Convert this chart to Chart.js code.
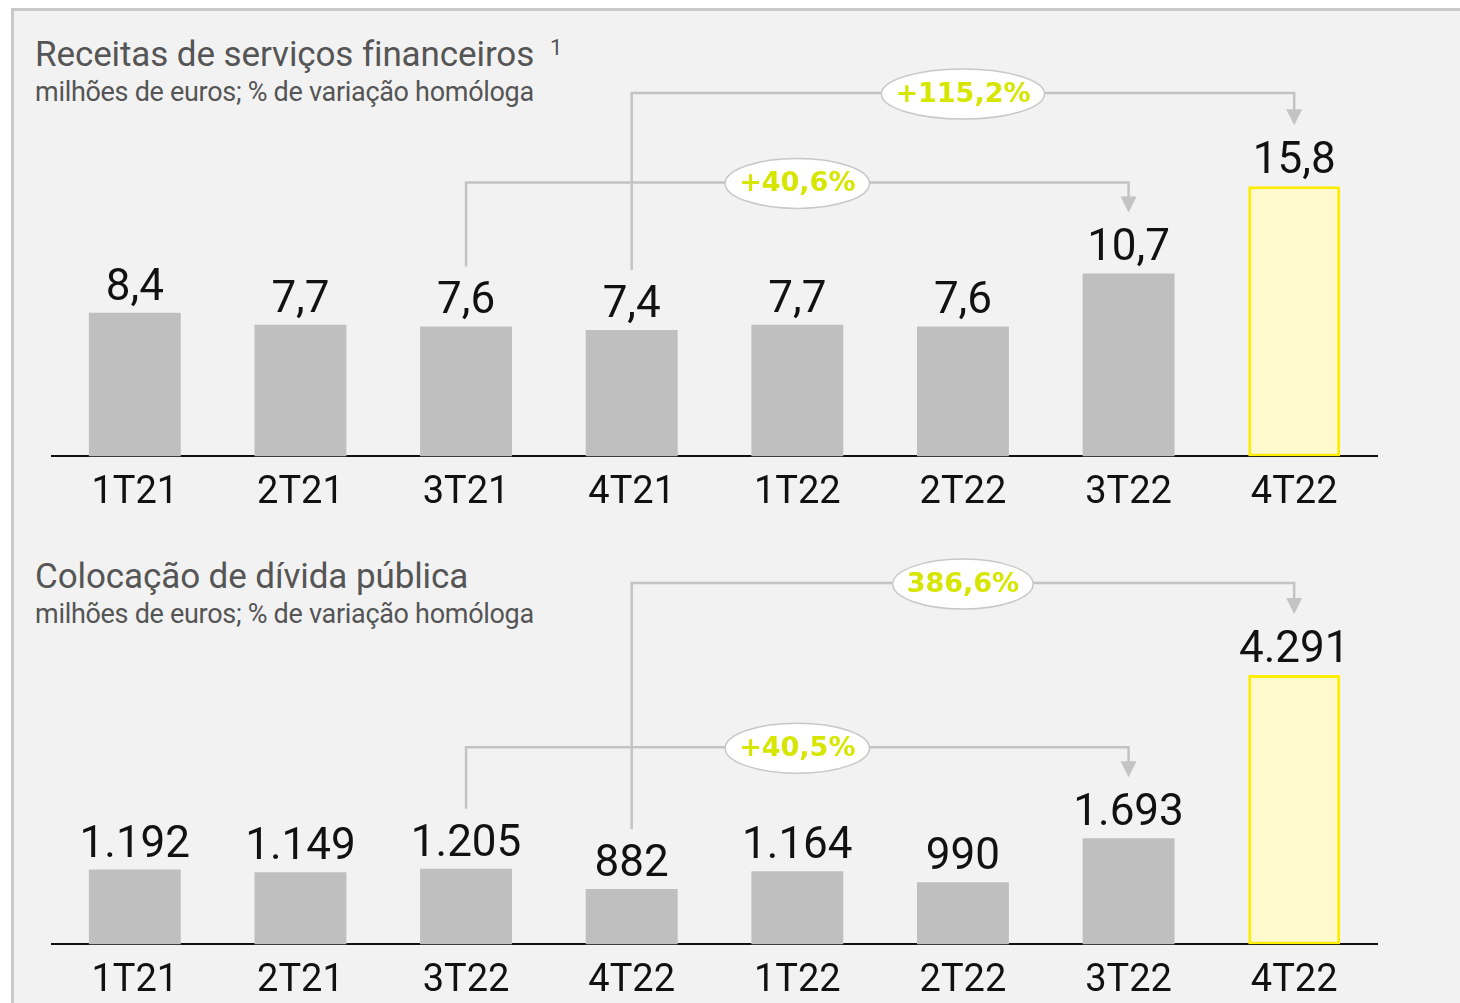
<!DOCTYPE html>
<html>
<head>
<meta charset="utf-8">
<script src="https://cdn.jsdelivr.net/npm/chart.js@4.4.0/dist/chart.umd.min.js"></script>
<style>
  body { margin: 0; background: #fff; width: 1460px; height: 1003px; overflow: hidden; position: relative; font-family: Roboto, sans-serif; }
  #frame { position: absolute; left: 11px; top: 8px; width: 1460px; height: 1000px; background: #f2f2f2;
           border-top: 3px solid #c9c9c9; border-left: 3px solid #c9c9c9; }
  .title { position: absolute; left: 35px; color: #555; font-size: 35px; line-height: 35px; white-space: nowrap; letter-spacing: -0.1px; }
  .note { position: absolute; left: 550px; top: 37px; color: #555; font-size: 22px; line-height: 22px; }
  .sub { position: absolute; left: 35px; color: #555; font-size: 27px; line-height: 27px; white-space: nowrap; letter-spacing: -0.3px; }
  canvas { position: absolute; left: 0; }
</style>
</head>
<body>
<div id="frame"></div>
<div class="title" style="top:37px">Receitas de serviços financeiros</div>
<div class="note">1</div>
<div class="sub" style="top:79px">milhões de euros; % de variação homóloga</div>
<div class="title" style="top:559px">Colocação de dívida pública</div>
<div class="sub" style="top:601px">milhões de euros; % de variação homóloga</div>
<canvas id="receitas" width="1460" height="530" style="top:0"></canvas>
<canvas id="divida" width="1460" height="488" style="top:530px"></canvas>
<script>
// quarters
const quartersReceitas = ['1T21', '2T21', '3T21', '4T21', '1T22', '2T22', '3T22', '4T22'];
const quartersDivida = ['1T21', '2T21', '3T22', '4T22', '1T22', '2T22', '3T22', '4T22'];

// milhões de euros
const receitas = [8.4, 7.7, 7.6, 7.4, 7.7, 7.6, 10.7, 15.8];
const divida = [1192, 1149, 1205, 882, 1164, 990, 1693, 4291];

// variação homóloga
const receitasVar = ['+115,2%', '+40,6%'];
const dividaVar = ['386,6%', '+40,5%'];

const GRAY = '#bfbfbf';
const LINE = '#c3c3c3';

function fmtDecimal(v) { return v.toFixed(1).replace('.', ','); }
function fmtThousands(v) { return String(v).replace(/\B(?=(\d{3})+(?!\d))/g, '.'); }

const valueLabels = {
    id: 'valueLabels',
    afterDatasetsDraw(chart, args, opts) {
        const ctx = chart.ctx;
        const meta = chart.getDatasetMeta(0);
        ctx.save();
        ctx.font = '44px Roboto, sans-serif';
        ctx.fillStyle = '#111';
        ctx.textAlign = 'center';
        ctx.textBaseline = 'alphabetic';
        meta.data.forEach((bar, i) => {
            ctx.fillText(opts.format(chart.data.datasets[0].data[i]), bar.x, bar.y - 13);
        });
        ctx.restore();
    }
};

const brackets = {
    id: 'brackets',
    afterDatasetsDraw(chart, args, opts) {
        const ctx = chart.ctx;
        const bars = chart.getDatasetMeta(0).data;
        const y = chart.scales.y;
        ctx.save();
        opts.items.forEach(item => {
            const x1 = bars[item.from].x, x2 = bars[item.to].x;
            const yStart = bars[item.from].y - 60;
            const yLevel = y.getPixelForValue(item.level);
            const yTip = bars[item.to].y - 61;
            ctx.strokeStyle = LINE;
            ctx.lineWidth = 2.5;
            ctx.beginPath();
            ctx.moveTo(x1, yStart);
            ctx.lineTo(x1, yLevel);
            ctx.lineTo(x2, yLevel);
            ctx.lineTo(x2, yTip - 14);
            ctx.stroke();
            ctx.fillStyle = LINE;
            ctx.beginPath();
            ctx.moveTo(x2 - 8, yTip - 16);
            ctx.lineTo(x2 + 8, yTip - 16);
            ctx.lineTo(x2, yTip);
            ctx.closePath();
            ctx.fill();

            const cx = (x1 + x2) / 2;
            ctx.font = 'bold 27px "DejaVu Sans", sans-serif';
            const w = ctx.measureText(item.label).width;
            ctx.beginPath();
            ctx.ellipse(cx, yLevel + 1, w / 2 + 14, 25, 0, 0, Math.PI * 2);
            ctx.fillStyle = '#fff';
            ctx.fill();
            ctx.lineWidth = 1.5;
            ctx.strokeStyle = '#c8c8c8';
            ctx.stroke();
            ctx.fillStyle = '#d7e600';
            ctx.textAlign = 'center';
            ctx.textBaseline = 'middle';
            ctx.fillText(item.label, cx, yLevel + 2);
        });
        ctx.restore();
    }
};

function makeChart(id, labels, values, yMax, format, items) {
    const n = values.length;
    return new Chart(id, {
        type: 'bar',
        data: {
            labels: labels,
            datasets: [{
                data: values,
                backgroundColor: values.map((_, i) => i === n - 1 ? '#fffacd' : GRAY),
                borderColor: values.map((_, i) => i === n - 1 ? '#ffed00' : GRAY),
                borderWidth: values.map((_, i) => i === n - 1 ? 3 : 0),
                borderSkipped: false,
                categoryPercentage: 1,
                barPercentage: 0.555
            }]
        },
        options: {
            responsive: false,
            animation: false,
            layout: { padding: { left: 52, right: 83, top: 0, bottom: 0 } },
            plugins: {
                legend: { display: false },
                tooltip: { enabled: false },
                valueLabels: { format: format },
                brackets: { items: items }
            },
            scales: {
                y: { display: false, min: 0, max: yMax },
                x: {
                    grid: { display: false, drawTicks: false },
                    border: { display: true, color: '#111', width: 2 },
                    ticks: { color: '#111', font: { family: 'Roboto', size: 38 }, padding: 14 }
                }
            }
        },
        plugins: [valueLabels, brackets]
    });
}

makeChart('receitas', quartersReceitas, receitas, 26.7, fmtDecimal, [
    { from: 3, to: 7, level: 21.26, label: receitasVar[0] },
    { from: 2, to: 6, level: 16.03, label: receitasVar[1] }
]);
makeChart('divida', quartersDivida, divida, 6603, fmtThousands, [
    { from: 3, to: 7, level: 5757, label: dividaVar[0] },
    { from: 2, to: 6, level: 3142, label: dividaVar[1] }
]);
</script>
</body>
</html>
